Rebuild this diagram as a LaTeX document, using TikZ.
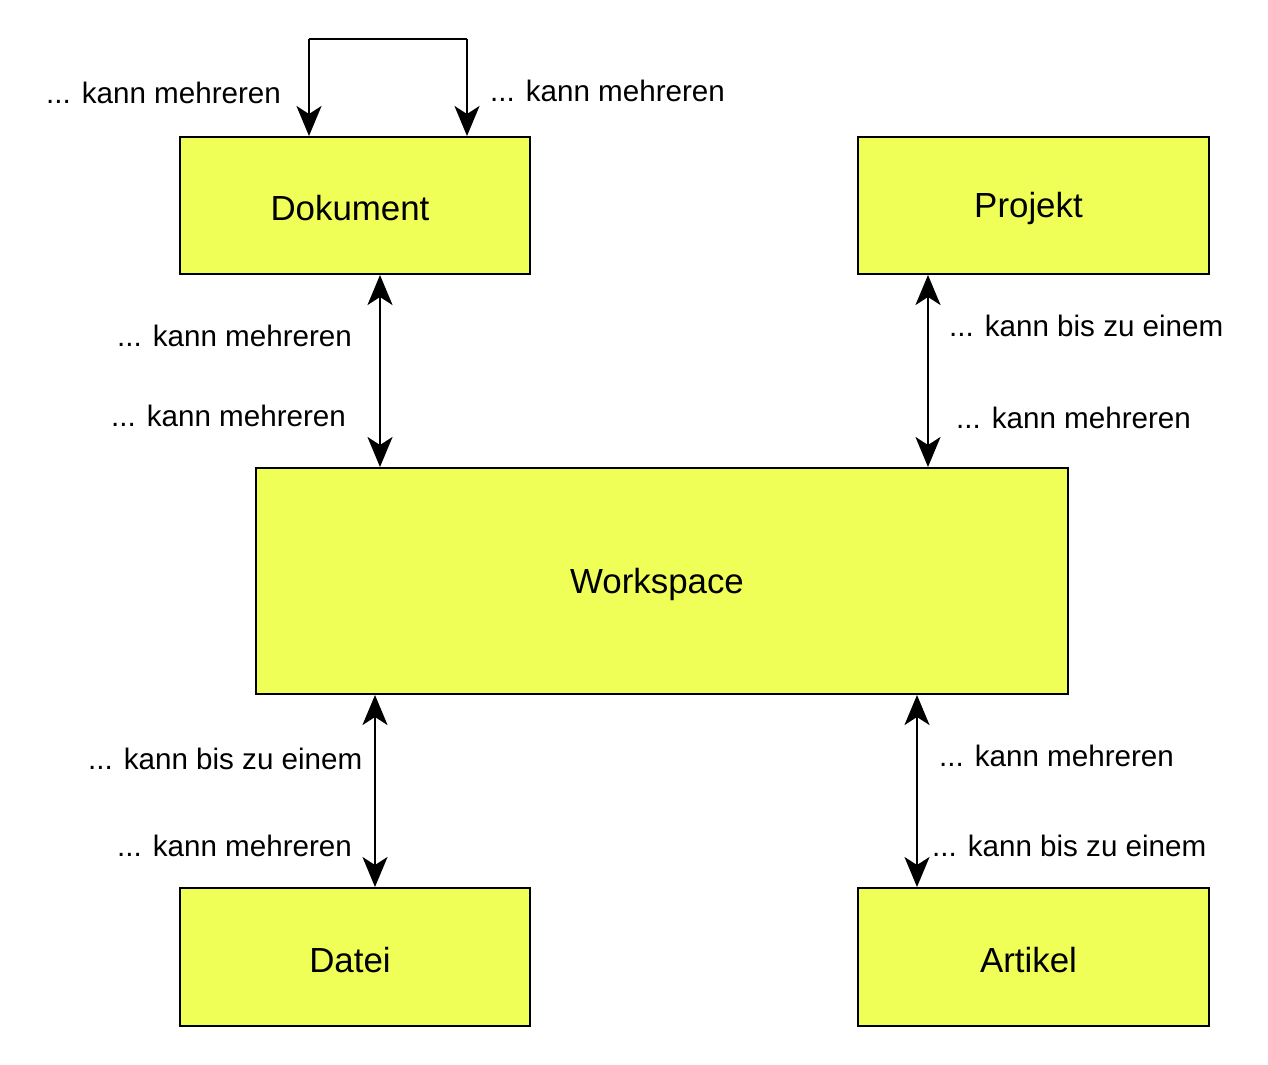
\documentclass[tikz,border=0pt]{standalone}
\usepackage{fontspec}
\setmainfont{Liberation Sans}
\usetikzlibrary{arrows.meta}
\definecolor{boxyellow}{HTML}{EFFF57}
\tikzset{
  ent/.style={draw=black, line width=2bp, fill=boxyellow, inner sep=0pt},
  enttext/.style={inner sep=0pt, font=\fontsize{35}{42}\selectfont, xshift=-5bp, yshift=-3bp},
  lbl/.style={inner sep=0pt, anchor=west, font=\fontsize{29.7}{36}\selectfont},
  rel/.style={line width=2.2bp, -{Stealth[length=30bp,width=25bp,inset=8bp]}},
  birel/.style={line width=2.2bp, {Stealth[length=30bp,width=25bp,inset=8bp]}-{Stealth[length=30bp,width=25bp,inset=8bp]}}
}
\begin{document}
\begin{tikzpicture}[x=1bp,y=-1bp]
\useasboundingbox (0,0) rectangle (1268,1065);
\node[ent, minimum width=350bp, minimum height=137bp, label={[enttext]center:Dokument}] (dok) at (355,205.5) {};
\node[ent, minimum width=351bp, minimum height=137bp, label={[enttext]center:Projekt}] (proj) at (1033.5,205.5) {};
\node[ent, minimum width=812bp, minimum height=226bp, label={[enttext]center:Workspace}] (ws) at (662,581) {};
\node[ent, minimum width=350bp, minimum height=138bp, label={[enttext]center:Datei}] (dat) at (355,957) {};
\node[ent, minimum width=351bp, minimum height=138bp, label={[enttext]center:Artikel}] (art) at (1033.5,957) {};

\coordinate (l1) at (309,39);
\coordinate (l2) at (467,39);
\draw[rel] (l1) -- (l1 |- dok.north);
\draw[line width=2.2bp] (l1) -- (l2);
\draw[rel] (l2) -- (l2 |- dok.north);

\draw[birel] (380,0 |- dok.south) -- (380,0 |- ws.north);
\draw[birel] (928,0 |- proj.south) -- (928,0 |- ws.north);
\draw[birel] (375,0 |- ws.south) -- (375,0 |- dat.north);
\draw[birel] (917,0 |- ws.south) -- (917,0 |- art.north);

\node[lbl] (t1) at (46,93) {... kann mehreren};
\node[lbl] (t2) at (490,91) {... kann mehreren};
\node[lbl] (t3) at (117,336) {... kann mehreren};
\node[lbl] (t4) at (111,416) {... kann mehreren};
\node[lbl] (t5) at (949,326) {... kann bis zu einem};
\node[lbl] (t6) at (956,418) {... kann mehreren};
\node[lbl] (t7) at (88,759) {... kann bis zu einem};
\node[lbl] (t8) at (117,846) {... kann mehreren};
\node[lbl] (t9) at (939,756) {... kann mehreren};
\node[lbl] (t10) at (932,846) {... kann bis zu einem};
\end{tikzpicture}
\end{document}
